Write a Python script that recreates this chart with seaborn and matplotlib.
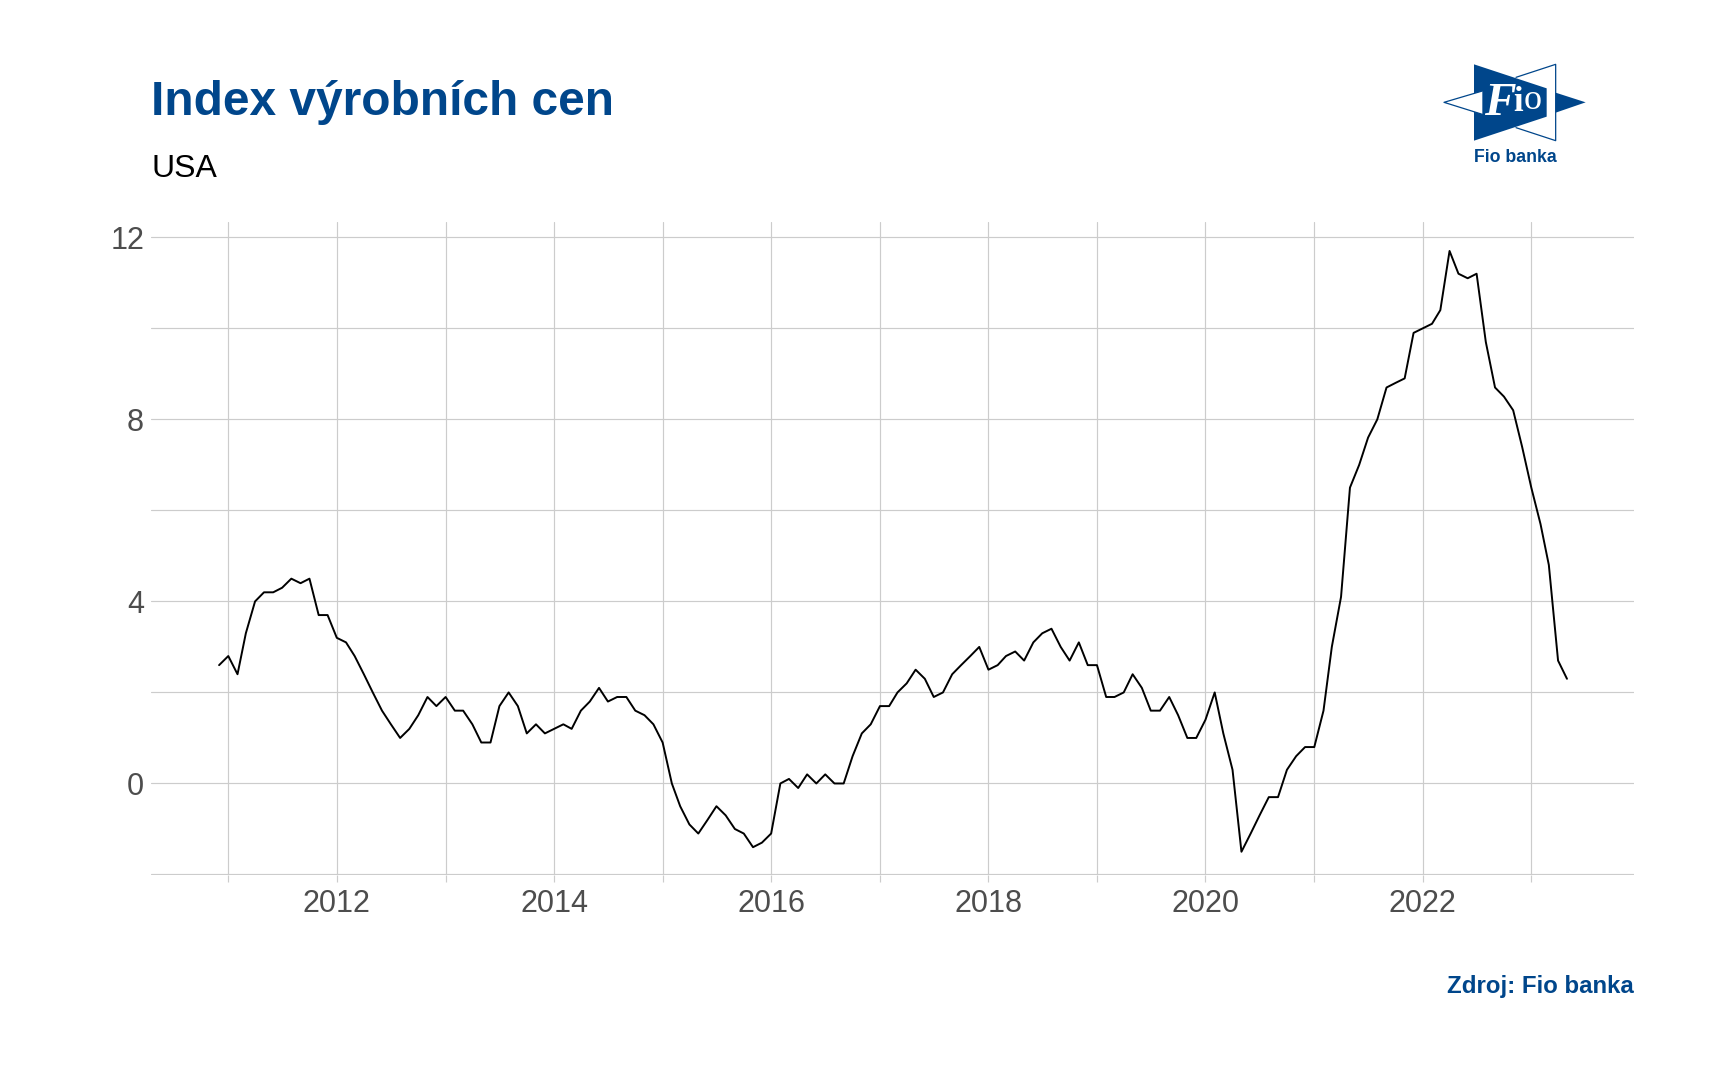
import matplotlib
matplotlib.use("Agg")
import matplotlib.pyplot as plt
from matplotlib.patches import Polygon
import matplotlib.dates as mdates
import numpy as np
import pandas as pd
import seaborn as sns

# monthly values, Dec 2010 - May 2023
ppi = [2.6,
       2.8, 2.4, 3.3, 4.0, 4.2, 4.2, 4.3, 4.5, 4.4, 4.5, 3.7, 3.7,
       3.2, 3.1, 2.8, 2.4, 2.0, 1.6, 1.3, 1.0, 1.2, 1.5, 1.9, 1.7,
       1.9, 1.6, 1.6, 1.3, 0.9, 0.9, 1.7, 2.0, 1.7, 1.1, 1.3, 1.1,
       1.2, 1.3, 1.2, 1.6, 1.8, 2.1, 1.8, 1.9, 1.9, 1.6, 1.5, 1.3,
       0.9, 0.0, -0.5, -0.9, -1.1, -0.8, -0.5, -0.7, -1.0, -1.1, -1.4, -1.3,
       -1.1, 0.0, 0.1, -0.1, 0.2, 0.0, 0.2, 0.0, 0.0, 0.6, 1.1, 1.3,
       1.7, 1.7, 2.0, 2.2, 2.5, 2.3, 1.9, 2.0, 2.4, 2.6, 2.8, 3.0,
       2.5, 2.6, 2.8, 2.9, 2.7, 3.1, 3.3, 3.4, 3.0, 2.7, 3.1, 2.6,
       2.6, 1.9, 1.9, 2.0, 2.4, 2.1, 1.6, 1.6, 1.9, 1.5, 1.0, 1.0,
       1.4, 2.0, 1.1, 0.3, -1.5, -1.1, -0.7, -0.3, -0.3, 0.3, 0.6, 0.8,
       0.8, 1.6, 3.0, 4.1, 6.5, 7.0, 7.6, 8.0, 8.7, 8.8, 8.9, 9.9,
       10.0, 10.1, 10.4, 11.7, 11.2, 11.1, 11.2, 9.7, 8.7, 8.5, 8.2, 7.4,
       6.5, 5.7, 4.8, 2.7, 2.3]
start_month = "2010-12-01"
grid_years = list(range(2011, 2024))
label_years = [2012, 2014, 2016, 2018, 2020, 2022]
y_grid = [-2, 0, 2, 4, 6, 8, 10, 12]
y_labels = [0, 4, 8, 12]

title = "Index výrobních cen"
subtitle = "USA"
source = "Zdroj: Fio banka"

BLUE = "#00468b"
GRID = "#cccccc"
W, H = 1714, 1078

sns.set_theme(style="white")
plt.rcParams["font.family"] = ["Liberation Sans", "DejaVu Sans"]

df = pd.DataFrame({"date": pd.date_range(start_month, periods=len(ppi), freq="MS"), "ppi": ppi})

fig = plt.figure(figsize=(W / 100, H / 100), dpi=100, facecolor="white")
ax = fig.add_axes([151 / W, 1 - 874.5 / H, (1634 - 151) / W, (874.5 - 222) / H])

sns.lineplot(data=df, x="date", y="ppi", ax=ax, color="black", linewidth=1.4, zorder=3)

# pixel positions of 2011 and 2023 gridlines give the x limits
days_px = (pd.Timestamp("2023-01-01") - pd.Timestamp("2011-01-01")).days / (1531.3 - 228.3)
ax.set_xlim(mdates.date2num(pd.Timestamp("2011-01-01")) - (228.3 - 151) * days_px,
            mdates.date2num(pd.Timestamp("2023-01-01")) + (1634 - 1531.3) * days_px)
ax.set_ylim(-2, (783.3 - 222) / 45.5)

ax.set_xticks([mdates.date2num(pd.Timestamp(f"{y}-01-01")) for y in grid_years])
ax.set_xticklabels([str(y) if y in label_years else "" for y in grid_years])
ax.set_yticks(y_grid)
ax.set_yticklabels([str(v) if v in y_labels else "" for v in y_grid])
ax.grid(True, color=GRID, linewidth=0.85)
ax.set_axisbelow(True)
ax.set(xlabel="", ylabel="")
sns.despine(ax=ax, left=True, bottom=True, top=True, right=True)
ax.tick_params(axis="x", length=5, width=0.85, color=GRID, labelsize=22, labelcolor="#4d4d4d", pad=5.7, bottom=True)
ax.tick_params(axis="y", length=0, labelsize=22, labelcolor="#4d4d4d", pad=5)

fig.text(151 / W, 1 - 102.5 / H, title, color=BLUE, fontsize=34.45, fontweight="bold", ha="left", va="center")
fig.text(151 / W, 1 - 169 / H, subtitle, color="black", fontsize=23, ha="left", va="center")
fig.text(1634 / W, 1 - 987 / H, source, color=BLUE, fontsize=17.3, fontweight="bold", ha="right", va="center")

# logo, drawn in pixel coordinates
lg = fig.add_axes([0, 0, 1, 1], zorder=5)
lg.set_xlim(0, W)
lg.set_ylim(H, 0)
lg.axis("off")
lg.patch.set_alpha(0)


def px(x, y):
    return (1440 + x / 3, 60 + y / 3)


lg.add_patch(Polygon([px(102, 13), px(320, 85), px(320, 170), px(102, 242)], closed=True, fc=BLUE, ec="none"))
lg.add_patch(Polygon([px(347, 98), px(437, 127), px(347, 158)], closed=True, fc=BLUE, ec="none"))
lg.add_patch(Polygon([px(12, 127), px(127, 93), px(127, 163)], closed=True, fc="white", ec="none"))
lg.plot(*zip(px(127, 93), px(12, 127), px(127, 163)), color=BLUE, lw=0.9)
lg.plot(*zip(px(228, 52), px(347, 13), px(347, 242), px(228, 203)), color=BLUE, lw=0.9)
lg.text(*px(180, 133), "F", color="white", family="Liberation Serif", style="italic", fontweight="bold", fontsize=34,
        ha="center", va="center")
lg.text(*px(235, 127), "i", color="white", family="Liberation Serif", fontweight="bold", fontsize=25,
        ha="center", va="center")
lg.text(*px(279, 121), "o", color="white", family="Liberation Serif", fontsize=26, ha="center", va="center")
lg.text(*px(225, 293), "Fio banka", color=BLUE, fontsize=12.8, fontweight="bold", ha="center", va="center")

fig.savefig("out.png", dpi=100)
